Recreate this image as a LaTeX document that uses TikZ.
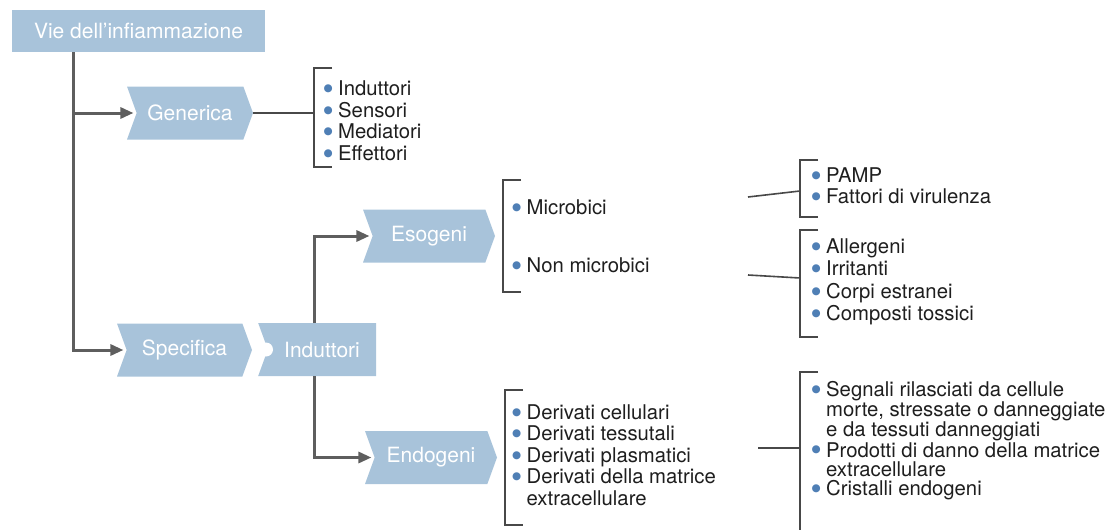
\documentclass[tikz,border=0pt]{standalone}
\usepackage{fontspec}
\setmainfont{TeX Gyre Heros}
\newfontfamily\simboli{DejaVu Sans}
\usetikzlibrary{shapes.symbols,arrows.meta}

\definecolor{azzurro}{HTML}{A8C3DA}
\definecolor{puntoblu}{HTML}{4F7FB5}
\definecolor{grigiofreccia}{HTML}{5E5E5E}
\definecolor{grigiolinea}{HTML}{484848}
\definecolor{nero}{HTML}{1E1E1E}

% bullet of the lists
\newcommand{\pto}{\makebox[14.5pt][l]{\raisebox{4.2pt}{\simboli\fontsize{10.5}{10}\selectfont\textcolor{puntoblu}{●}}}}

\begin{document}
\begin{tikzpicture}[
    x=1pt, y=-1pt,
    testo/.style={font=\fontsize{21}{22}\selectfont, text=white},
    titolo/.style={testo, rectangle, fill=azzurro, minimum width=253pt, minimum height=42pt, inner sep=0pt},
    passo/.style={testo, signal, signal to=east, signal from=west, signal pointer angle=140,
        fill=azzurro, inner sep=0pt, minimum height=53pt},
    elenco/.style={font=\fontsize{20.3}{21.5}\selectfont, text=nero, align=left, anchor=west, inner sep=0pt},
    freccia/.style={draw=grigiofreccia, line width=3pt, -{Triangle[length=13pt,width=11pt]}, shorten >=3pt},
    filo/.style={draw=grigiolinea, line width=1.6pt},
    graffa/.style={draw=grigiolinea, line width=1.6pt}
]
\useasboundingbox (0,0) rectangle (1117,530);

% boxes
\node [titolo] (vie) at (138.5,31) {Vie dell’infiammazione};
\node [passo, minimum width=126pt] (gen) at (190,113) {Generica};
\node [passo, minimum width=135pt] (spec) at (184.5,350) {Specifica};
\node [passo, signal to=nowhere, minimum width=118pt] (ind) at (322,349.5) {Induttori};
\node [circle, fill=white, minimum size=14pt, inner sep=0pt] (giunto) at (266,349.5) {};
\node [passo, minimum width=132pt] (eso) at (429,236) {Esogeni};
\node [passo, minimum width=132pt] (endo) at (431,457.5) {Endogeni};

% tree
\coordinate (tronco) at (73,52);
\coordinate (ramo) at (314,323);
\coordinate (radice) at (314,376);
\draw [freccia] (tronco) |- (gen);
\draw [freccia] (tronco) |- (spec);
\draw [freccia] (ramo) |- (eso);
\draw [freccia] (radice) |- (endo);

% lists
\node [elenco] (lgen) at (323.5,121) {\pto Induttori\\ \pto Sensori\\ \pto Mediatori\\ \pto Effettori};
\node [elenco] (micro) at (512,207) {\pto Microbici};
\node [elenco] (nonmicro) at (512,265) {\pto Non microbici};
\node [elenco] (lmicro) at (811.5,186) {\pto PAMP\\ \pto Fattori di virulenza};
\node [elenco, font=\fontsize{20.3}{22.5}\selectfont] (lnonmicro) at (811.5,282)
    {\pto Allergeni\\ \pto Irritanti\\ \pto Corpi estranei\\ \pto Composti tossici};
\node [elenco] (lendo) at (512,455) {\pto Derivati cellulari\\ \pto Derivati tessutali\\
    \pto Derivati plasmatici\\ \pto Derivati della matrice\\ \phantom{\pto}extracellulare};
\node [elenco, font=\fontsize{20.3}{19.2}\selectfont] (lsegn) at (811.5,440.5)
    {\pto Segnali rilasciati da cellule\\ \phantom{\pto}morte, stressate o danneggiate\\
    \phantom{\pto}e da tessuti danneggiati\\ \pto Prodotti di danno della matrice\\
    \phantom{\pto}extracellulare\\ \pto Cristalli endogeni};

% brackets
\draw [graffa] (332,68) -| (314,167) -- (332,167);
\draw [graffa] (521,180) -| (503,292) -- (521,292);
\draw [graffa] (818,160) -| (800,217) -- (818,217);
\draw [graffa] (818,230) -| (800,337) -- (818,337);
\draw [graffa] (523,390) -| (505,525) -- (523,525);
\draw [graffa] (818,372) -| (800,532);

% connectors to the brackets
\coordinate (bgen) at (314,113);
\coordinate (amicro) at (748,197);
\coordinate (bmicro) at (800,191);
\coordinate (anon) at (748,275);
\coordinate (bnon) at (800,278);
\coordinate (aendo) at (758,448);
\coordinate (bendo) at (800,448);
\draw [filo] (gen.east) -- (bgen);
\draw [filo] (amicro) -- (bmicro);
\draw [filo] (anon) -- (bnon);
\draw [filo] (aendo) -- (bendo);

\end{tikzpicture}
\end{document}
